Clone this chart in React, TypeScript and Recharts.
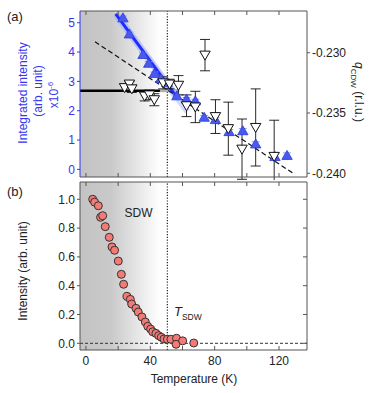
import React from "react";
import {
  ComposedChart,
  Scatter,
  Line,
  XAxis,
  YAxis,
  ReferenceArea,
  ReferenceLine,
  ErrorBar,
} from "recharts";

// temperature axis (K)
const xDomain = [-3.7, 137.4];
const xTicks = [0, 20, 40, 60, 80, 100, 120];
const xLabelTicks = [0, 40, 80, 120];
const tSdw = 50.6;

// (a) integrated intensity, x10^-6 (left axis)
const intT = [23, 27, 35.5, 39, 42.5, 46.5, 50.5, 56.5, 62.5, 68, 73.5, 80.5, 89, 97.5, 105.5, 117.5, 125];
const intV = [5.15, 4.6, 3.9, 3.6, 3.25, 3.08, 2.95, 2.49, 2.38, 2.32, 1.76, 1.68, 1.27, 1.3, 0.85, 0.42, 0.46];
const intErr = [0.08, 0.08, 0.07, 0.07, 0.07, 0.06, 0.06, 0.07, 0.07, 0.07, 0.08, 0.08, 0.09, 0.09, 0.09, 0.1, 0.1];
const intTicks = [0, 1, 2, 3, 4, 5];

// (a) q_CDW in r.l.u. (right axis)
const qT = [24, 27, 28.5, 36.5, 39.5, 42.5, 48, 52, 57.5, 62.5, 68, 74, 80.5, 88.5, 97, 105.5, 117];
const qV = [-0.2329, -0.2326, -0.233, -0.2336, -0.2335, -0.2339, -0.2325, -0.2326, -0.2327, -0.2344, -0.2345, -0.2302, -0.2353, -0.2363, -0.238, -0.2362, -0.2386];
const qErr = [0.0003, 0.0002, 0.0003, 0.0004, 0.0004, 0.0005, 0.0005, 0.0004, 0.0008, 0.0009, 0.0013, 0.0013, 0.0014, 0.0022, 0.0025, 0.0032, 0.003];
const qTicks = [-0.24, -0.235, -0.23];

// guide lines in (a)
const fitIntT = [18.5, 57];
const fitIntV = [5.3, 2.42];
const fitIntFadeT = [57, 63];
const fitIntFadeV = [2.42, 1.97];
const qFlatT = [-3.7, 46];
const qFlatFadeT = [46, 58];
const qFlat = -0.23315;
const qLinT = [5.6, 129.4];
const qLinV = [-0.22909, -0.24006];

// (b) SDW peak intensity
const sdwT = [4.2, 5.4, 7.7, 9.1, 10.4, 12, 14.5, 16.2, 17.8, 20.1, 22, 23.4, 25.5, 27.6, 28.4, 31.1, 32.5, 34.8, 36.9, 38.4, 40.2, 41.5, 43.5, 45.2, 46.8, 48.5, 50.6, 52.8, 56.3, 56, 60.1, 67];
const sdwV = [1.0, 0.98, 0.955, 0.875, 0.886, 0.81, 0.736, 0.669, 0.646, 0.571, 0.479, 0.41, 0.326, 0.305, 0.273, 0.243, 0.217, 0.183, 0.148, 0.118, 0.099, 0.08, 0.069, 0.053, 0.042, 0.03, 0.028, 0.028, 0.035, -0.007, 0.017, 0.002];
const sdwTicks = [0, 0.2, 0.4, 0.6, 0.8, 1.0];

const BLUE = "#3535f2";
const FRAME = "#555";
const FONT = '"Liberation Sans", Arial, sans-serif';

const intData = intT.map((T, i) => ({ T, v: intV[i], err: intErr[i] }));
const qData = qT.map((T, i) => ({ T, v: qV[i], err: qErr[i] }));
const sdwData = sdwT.map((T, i) => ({ T, v: sdwV[i] }));
const pairs = (xs: number[], ys: number[]) => xs.map((T, i) => ({ T, v: ys[i] }));

function UpTri(props: any) {
  const { cx, cy } = props;
  if (cx == null || cy == null) return null;
  return (
    <polygon
      points={`${cx},${cy - 5.5} ${cx + 5.2},${cy + 3.5} ${cx - 5.2},${cy + 3.5}`}
      fill="#4a5af0"
      stroke="#2c3bd6"
      strokeWidth={0.8}
    />
  );
}

function DownTri(props: any) {
  const { cx, cy } = props;
  if (cx == null || cy == null) return null;
  return (
    <polygon
      points={`${cx - 5.2},${cy - 4} ${cx + 5.2},${cy - 4} ${cx},${cy + 5}`}
      fill="#fff"
      stroke="#111"
      strokeWidth={1}
    />
  );
}

function Dot(props: any) {
  const { cx, cy } = props;
  if (cx == null || cy == null) return null;
  return <circle cx={cx} cy={cy} r={4} fill="#f47a76" stroke="#333" strokeWidth={1} />;
}

const noLabel = () => "";

function Shade({ id }: { id: string }) {
  return (
    <defs>
      <linearGradient id={id} x1="0" y1="0" x2="1" y2="0">
        <stop offset="0%" stopColor="#c3c3c3" />
        <stop offset="35%" stopColor="#c9c9c9" />
        <stop offset="92%" stopColor="#ffffff" />
      </linearGradient>
    </defs>
  );
}

function PanelA() {
  return (
    <ComposedChart width={382} height={180} margin={{ top: 11, right: 35, bottom: 3, left: 40 }}>
      <Shade id="shadeA" />
      <XAxis xAxisId="b" type="number" dataKey="T" domain={xDomain} ticks={xTicks} interval={0}
        allowDataOverflow orientation="bottom" mirror tickFormatter={noLabel} tickSize={4} stroke={FRAME} />
      <XAxis xAxisId="t" type="number" dataKey="T" domain={xDomain} ticks={xTicks} interval={0}
        allowDataOverflow orientation="top" mirror tickFormatter={noLabel} tickSize={4} stroke={FRAME} />
      <YAxis yAxisId="L" type="number" domain={[-0.26, 5.4]} ticks={intTicks} interval={0} allowDataOverflow
        width={40} tickSize={3} tickMargin={2} stroke={BLUE} tick={{ fill: BLUE, fontSize: 12 }} />
      <YAxis yAxisId="R" orientation="right" type="number" domain={[-0.24031, -0.22654]} ticks={qTicks}
        interval={0} allowDataOverflow width={40} tickSize={3} tickMargin={2} stroke={FRAME}
        tick={{ fill: "#222", fontSize: 12 }} tickFormatter={(v: number) => v.toFixed(3)} />
      <ReferenceArea xAxisId="b" yAxisId="L" x1={xDomain[0]} x2={tSdw} fill="url(#shadeA)" fillOpacity={1} stroke="none" />
      <ReferenceLine xAxisId="b" yAxisId="L" x={tSdw} stroke="#222" strokeWidth={1.2} strokeDasharray="1.2 1.6" />
      <Line xAxisId="b" yAxisId="R" data={pairs(qFlatT, [qFlat, qFlat])} dataKey="v" stroke="#000"
        strokeWidth={2.5} dot={false} isAnimationActive={false} />
      <Line xAxisId="b" yAxisId="R" data={pairs(qFlatFadeT, [qFlat, qFlat])} dataKey="v" stroke="#b0b0b0"
        strokeWidth={3} dot={false} isAnimationActive={false} />
      <Line xAxisId="b" yAxisId="L" data={pairs(fitIntT, fitIntV)} dataKey="v" stroke="#aab4ff"
        strokeWidth={7} strokeOpacity={0.7} dot={false} isAnimationActive={false} />
      <Line xAxisId="b" yAxisId="L" data={pairs(fitIntFadeT, fitIntFadeV)} dataKey="v" stroke="#d2d8ff"
        strokeWidth={6} dot={false} isAnimationActive={false} />
      <Line xAxisId="b" yAxisId="L" data={pairs(fitIntT, fitIntV)} dataKey="v" stroke="#1f2cff"
        strokeWidth={3} dot={false} isAnimationActive={false} />
      <Line xAxisId="b" yAxisId="R" data={pairs(qLinT, qLinV)} dataKey="v" stroke="#111"
        strokeWidth={1.2} strokeDasharray="5 3" dot={false} isAnimationActive={false} />
      <Scatter xAxisId="b" yAxisId="L" data={intData} dataKey="v" shape={UpTri} isAnimationActive={false}>
        <ErrorBar dataKey="err" direction="y" width={4} stroke="#8c9cf5" strokeWidth={1} />
      </Scatter>
      <Scatter xAxisId="b" yAxisId="R" data={qData} dataKey="v" shape={DownTri} isAnimationActive={false}>
        <ErrorBar dataKey="err" direction="y" width={5} stroke="#111" strokeWidth={0.9} />
      </Scatter>
    </ComposedChart>
  );
}

function PanelB() {
  return (
    <ComposedChart width={382} height={213} margin={{ top: 2, right: 75, bottom: 23, left: 40 }}>
      <Shade id="shadeB" />
      <XAxis xAxisId="b" type="number" dataKey="T" domain={xDomain} ticks={xTicks} interval={0}
        allowDataOverflow orientation="bottom" mirror tickFormatter={noLabel} tickSize={4} stroke={FRAME} />
      <XAxis xAxisId="lab" type="number" dataKey="T" domain={xDomain} ticks={xLabelTicks} interval={0}
        allowDataOverflow orientation="bottom" height={20} axisLine={false} tickLine={false} tickSize={0}
        tickMargin={6} tick={{ fill: "#222", fontSize: 12 }} />
      <XAxis xAxisId="t" type="number" dataKey="T" domain={xDomain} ticks={xTicks} interval={0}
        allowDataOverflow orientation="top" mirror tickFormatter={noLabel} tickSize={4} stroke={FRAME} />
      <YAxis yAxisId="L" type="number" domain={[-0.0465, 1.12]} ticks={sdwTicks} interval={0} allowDataOverflow
        width={40} tickSize={3} tickMargin={2} stroke={FRAME} tick={{ fill: "#222", fontSize: 12 }}
        tickFormatter={(v: number) => v.toFixed(1)} />
      <YAxis yAxisId="R" orientation="right" type="number" domain={[-0.0465, 1.12]} ticks={sdwTicks}
        interval={0} allowDataOverflow mirror tickFormatter={noLabel} tickSize={4} stroke={FRAME} />
      <ReferenceArea xAxisId="b" yAxisId="L" x1={xDomain[0]} x2={tSdw} fill="url(#shadeB)" fillOpacity={1} stroke="none" />
      <ReferenceLine xAxisId="b" yAxisId="L" y={0} stroke="#333" strokeWidth={1} strokeDasharray="3 2" />
      <ReferenceLine xAxisId="b" yAxisId="L" x={tSdw} stroke="#222" strokeWidth={1.2} strokeDasharray="1.2 1.6" />
      <Scatter xAxisId="b" yAxisId="L" data={sdwData} dataKey="v" shape={Dot} isAnimationActive={false} />
    </ComposedChart>
  );
}

const abs = (left: number, top: number, extra: React.CSSProperties = {}): React.CSSProperties => ({
  position: "absolute",
  left,
  top,
  whiteSpace: "nowrap",
  lineHeight: 1,
  ...extra,
});

const rot = (cx: number, cy: number, deg: number, extra: React.CSSProperties = {}): React.CSSProperties =>
  abs(cx, cy, { transform: `translate(-50%, -50%) rotate(${deg}deg)`, ...extra });

export default function App() {
  return (
    <div style={{ position: "absolute", left: 0, top: 0, width: 382, height: 393, background: "#fff", fontFamily: FONT, color: "#222" }}>
      <div style={{ position: "absolute", left: 0, top: 0 }}>
        <PanelA />
      </div>
      <div style={{ position: "absolute", left: 0, top: 180 }}>
        <PanelB />
      </div>

      <div style={abs(7, 10, { fontSize: 13 })}>(a)</div>
      <div style={abs(7, 185, { fontSize: 13 })}>(b)</div>

      <div style={rot(23, 93, -90, { fontSize: 12, color: BLUE })}>Integrated intensity</div>
      <div style={rot(38, 91, -90, { fontSize: 12, color: BLUE })}>(arb. unit)</div>
      <div style={rot(53, 95, -90, { fontSize: 12, color: BLUE })}>
        x10<sup style={{ fontSize: 8 }}>-6</sup>
      </div>

      <div style={rot(357, 92, 90, { fontSize: 12 })}>
        <i>q</i>
        <sub style={{ fontSize: 8 }}>CDW</sub> (r.l.u.)
      </div>

      <div style={rot(23, 271, -90, { fontSize: 12 })}>Intensity (arb. unit)</div>
      <div style={rot(194, 379, 0, { fontSize: 12 })}>Temperature (K)</div>

      <div style={rot(138.5, 212.5, 0, { fontSize: 12 })}>SDW</div>
      <div style={abs(174, 305, { fontSize: 13 })}>
        <i>T</i>
        <sub style={{ fontSize: 8.5 }}>SDW</sub>
      </div>
    </div>
  );
}
